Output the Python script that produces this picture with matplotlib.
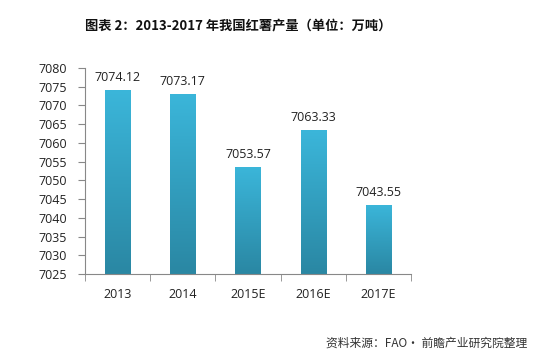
import matplotlib
matplotlib.use("Agg")
import matplotlib.pyplot as plt
import numpy as np
from matplotlib.colors import LinearSegmentedColormap

categories = ["2013", "2014", "2015E", "2016E", "2017E"]
values = [7074.12, 7073.17, 7053.57, 7063.33, 7043.55]
value_labels = ["7074.12", "7073.17", "7053.57", "7063.33", "7043.55"]
yticks = [7025, 7030, 7035, 7040, 7045, 7050, 7055, 7060, 7065, 7070, 7075, 7080]

title = "图表 2：2013-2017 年我国红薯产量（单位：万吨）"
source = "资料来源：FAO· 前瞻产业研究院整理"

fig = plt.figure(figsize=(5.44, 3.63), dpi=100)
ax = fig.add_axes([85/544, 1-274/363, 326/544, 206/363])

ymin, ymax = 7025, 7080
x = np.arange(len(categories))
bars = ax.bar(x, [v - ymin for v in values], bottom=ymin, width=0.385,
              color="none", edgecolor="none")

cmap = LinearSegmentedColormap.from_list("g", ["#2a87a3", "#3bb6da"])
grad = np.linspace(0, 1, 256).reshape(-1, 1)
for b in bars:
    x0, y0 = b.get_x(), b.get_y()
    w, h = b.get_width(), b.get_height()
    im = ax.imshow(grad, extent=[x0, x0 + w, ymin, y0 + h], origin="lower",
                   cmap=cmap, aspect="auto", zorder=2)
    im.set_clip_path(b)

for xi, v, lab in zip(x, values, value_labels):
    ax.text(xi, v + 1.6, lab, ha="center", va="bottom", fontsize=9,
            color="#222222", family="Open Sans")

ax.set_xlim(-0.5, len(categories) - 0.5)
ax.set_ylim(ymin, ymax)
ax.set_yticks(yticks)
ax.set_yticklabels([str(t) for t in yticks], fontsize=9, family="Open Sans", color="#222222")
ax.set_xticks(x)
ax.set_xticklabels(categories, fontsize=9, family="Open Sans", color="#222222")
ax.set_xticks(np.arange(-0.5, len(categories)), minor=True)
ax.tick_params(axis="x", which="major", length=0, pad=10)
ax.tick_params(axis="x", which="minor", length=5, color="#888888", direction="out")
ax.tick_params(axis="y", length=5, color="#888888", direction="out", pad=8)

for s in ["top", "right"]:
    ax.spines[s].set_visible(False)
for s in ["left", "bottom"]:
    ax.spines[s].set_color("#888888")
    ax.spines[s].set_linewidth(0.8)

fig.text(85/544, 1-25/363, title, ha="left", va="center", fontsize=9.5,
         fontweight="bold", family=["Noto Sans CJK SC", "DejaVu Sans"], color="#111111")
fig.text(527/544, 1-343/363, source, ha="right", va="center", fontsize=8.5,
         style="italic", family=["Noto Sans CJK SC", "DejaVu Sans"], color="#333333")

fig.savefig("out.png", dpi=100)
